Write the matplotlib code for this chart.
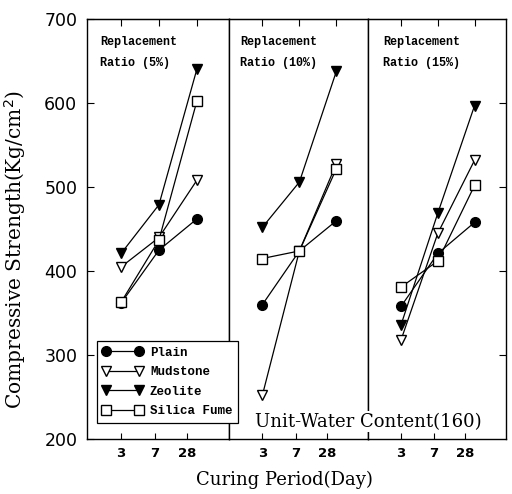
import numpy as np
import matplotlib
matplotlib.use('Agg')
import matplotlib.pyplot as plt
from matplotlib.lines import Line2D

#=======================================================================================
# Compressive strength (Kg/cm2) by curing period, one panel per replacement ratio
#=======================================================================================

days = ['3', '7', '28']
ratios = ['5%', '10%', '15%']
materials = ['Plain', 'Mudstone', 'Zeolite', 'Silica Fume']

plain    = [[362, 425, 462], [360, 424, 460], [358, 421, 458]]
mudstone = [[405, 440, 508], [252, 424, 528], [318, 445, 532]]
zeolite  = [[421, 479, 640], [452, 506, 638], [336, 469, 597]]
silica   = [[363, 437, 602], [415, 424, 522], [381, 412, 502]]

series = [plain, mudstone, zeolite, silica]
styles = [dict(marker='o', mfc='k', ms=7),
          dict(marker='v', mfc='w', ms=7),
          dict(marker='v', mfc='k', ms=7),
          dict(marker='s', mfc='w', ms=6.5)]

mono = 'Liberation Mono'
serif = 'DejaVu Serif'

fig = plt.figure(figsize=(5.12, 4.94), dpi=100)
gs = fig.add_gridspec(1, 3, left=0.170, right=0.988, bottom=0.111, top=0.9615,
                      wspace=0, width_ratios=[142, 139, 138])
axes = [fig.add_subplot(gs[0, i]) for i in range(3)]

xpos = np.arange(1, len(days) + 1)
text_x = [0.09, 0.08, 0.11]

for i, ax in enumerate(axes):
    for vals, st in zip(series, styles):
        ax.plot(xpos, vals[i], color='k', lw=0.9, mec='k', mew=1.0, zorder=3, **st)

    ax.set_xlim(0.1, 3.85)
    ax.set_ylim(200, 700)
    ax.set_xticks([1, 1.9, 2.75])
    ax.set_xticklabels(days, fontsize=9.5, fontweight='bold')
    ax.tick_params(axis='x', direction='in', length=4, pad=6, width=0.8)

    top = ax.secondary_xaxis('top')
    top.set_xticks(xpos)
    top.set_xticklabels([])
    top.tick_params(direction='in', length=5, width=0.8)

    for sp in ax.spines.values():
        sp.set_linewidth(1.0)

    if i == 0:
        ax.set_yticks(np.arange(200, 701, 100))
        ax.tick_params(axis='y', direction='in', length=5, pad=7, labelsize=12.5, width=0.8)
    elif i == 2:
        ax.set_yticks(np.arange(300, 601, 100))
        ax.yaxis.tick_right()
        ax.tick_params(axis='y', direction='in', length=5, labelright=False, width=0.8)
    else:
        ax.set_yticks([])

    ax.text(text_x[i], 0.945, 'Replacement', transform=ax.transAxes, family=mono,
            fontweight='bold', fontsize=8.5, va='center', ha='left')
    ax.text(text_x[i], 0.895, f'Ratio ({ratios[i]})', transform=ax.transAxes, family=mono,
            fontweight='bold', fontsize=8.5, va='center', ha='left')

handles = [Line2D([], [], color='k', lw=0.9, mec='k', mew=1.0, **st) for st in styles]
leg = fig.legend(handles, materials, loc='lower left', bbox_to_anchor=(0.189, 0.144),
                 bbox_transform=fig.transFigure, borderaxespad=0, numpoints=2,
                 handlelength=3.2, handletextpad=0.6, labelspacing=0.6, borderpad=0.45,
                 fancybox=False, framealpha=1, edgecolor='k',
                 prop=dict(family=mono, weight='bold', size=9))
leg.get_frame().set_linewidth(0.9)

fig.text(0.719, 0.146, 'Unit-Water Content(160)', family=serif, fontsize=13,
         ha='center', va='center', bbox=dict(fc='w', ec='none', pad=1))
fig.text(0.555, 0.028, 'Curing Period(Day)', family=serif, fontsize=13,
         ha='center', va='center')
fig.text(0.03, 0.494, 'Compressive Strength(Kg/cm$^2$)', family=serif, fontsize=14.5,
         ha='center', va='center', rotation=90)

plt.savefig('out.png', dpi=100)
plt.close()
